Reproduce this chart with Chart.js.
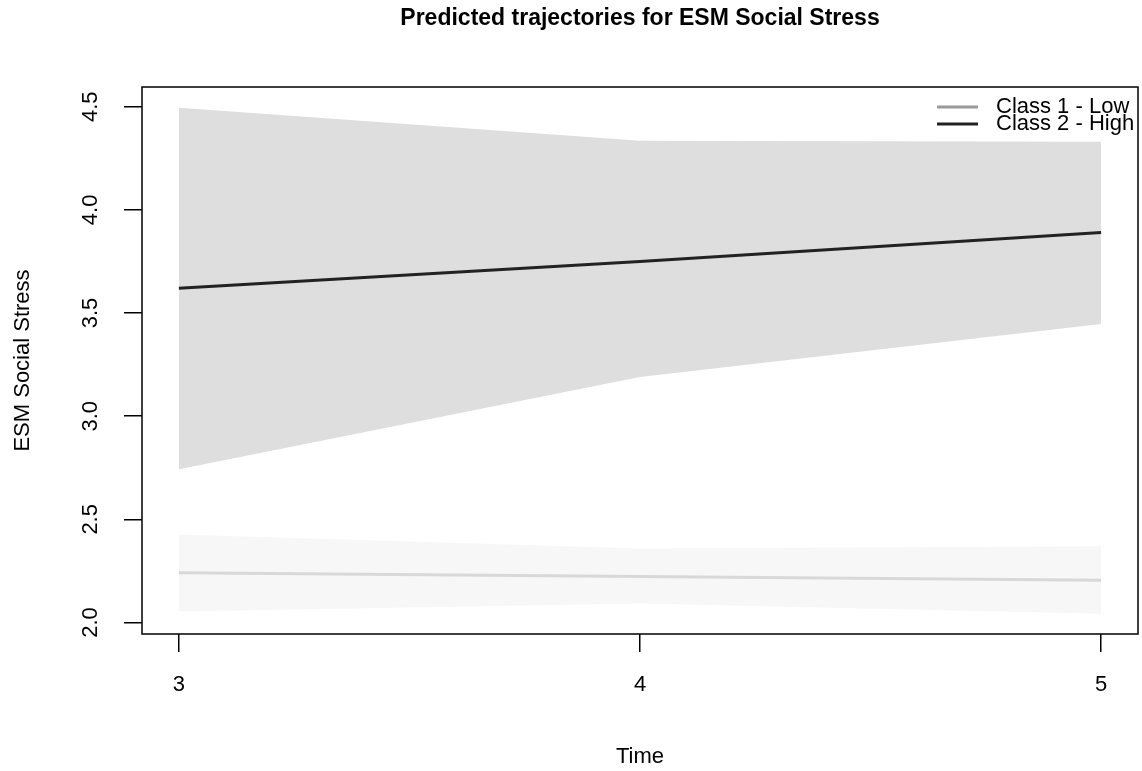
<!DOCTYPE html>
<html>
<head>
<meta charset="utf-8">
<script src="https://cdn.jsdelivr.net/npm/chart.js@4.4.1/dist/chart.umd.min.js"></script>
<style>
    html, body { margin: 0; padding: 0; background: #fff; }
    #wrap { width: 1142px; height: 771px; }
</style>
</head>
<body>
<div id="wrap"><canvas id="traj"></canvas></div>
<script>
const times = [3, 4, 5];
const highMean = [3.62, 3.75, 3.89];
const highUpper = [4.495, 4.335, 4.33];
const highLower = [2.743, 3.19, 3.447];
const lowMean = [2.241, 2.223, 2.204];
const lowUpper = [2.426, 2.359, 2.369];
const lowLower = [2.053, 2.092, 2.042];
const xTicks = [3, 4, 5];
const yTicks = [2.0, 2.5, 3.0, 3.5, 4.0, 4.5];
const legendLabels = ["Class 1 - Low", "Class 2 - High"];

const FONT = "'Liberation Sans', Arial, sans-serif";

function pts(ys) {
    return times.map((t, i) => ({ x: t, y: ys[i] }));
}

function band(ys, fill, color) {
    return {
        data: pts(ys),
        fill: fill,
        backgroundColor: color,
        borderWidth: 0,
        pointRadius: 0,
        tension: 0
    };
}

const rPlot = {
    id: "rPlot",
    afterDraw(chart) {
        const ctx = chart.ctx;
        const a = chart.chartArea;
        const xs = chart.scales.x;
        const ys = chart.scales.y;
        ctx.save();
        // box
        ctx.strokeStyle = "#000";
        ctx.lineWidth = 1.5;
        ctx.strokeRect(a.left, a.top, a.right - a.left, a.bottom - a.top);

        ctx.fillStyle = "#000";
        ctx.textAlign = "center";
        ctx.textBaseline = "middle";
        ctx.font = "22px " + FONT;
        xs.ticks.forEach(t => {
            ctx.fillText(String(t.value), xs.getPixelForValue(t.value), 685);
        });
        ys.ticks.forEach(t => {
            ctx.save();
            ctx.translate(91, ys.getPixelForValue(t.value));
            ctx.rotate(-Math.PI / 2);
            ctx.fillText(t.value.toFixed(1), 0, 0);
            ctx.restore();
        });

        // axis titles
        ctx.fillText("Time", (a.left + a.right) / 2, 757);
        ctx.save();
        ctx.translate(23, (a.top + a.bottom) / 2);
        ctx.rotate(-Math.PI / 2);
        ctx.fillText("ESM Social Stress", 0, 0);
        ctx.restore();

        // main title
        ctx.font = "bold 23px " + FONT;
        ctx.fillText("Predicted trajectories for ESM Social Stress", (a.left + a.right) / 2, 19);

        // legend
        const colors = ["#9a9a9a", "#222222"];
        const rows = [107, 124];
        ctx.font = "22px " + FONT;
        ctx.textAlign = "left";
        legendLabels.forEach((lab, i) => {
            ctx.strokeStyle = colors[i];
            ctx.lineWidth = 3;
            ctx.beginPath();
            ctx.moveTo(937, rows[i]);
            ctx.lineTo(978, rows[i]);
            ctx.stroke();
            ctx.fillStyle = "#000";
            ctx.fillText(lab, 996, rows[i]);
        });
        ctx.restore();
    }
};

new Chart(document.getElementById("traj"), {
    type: "line",
    data: {
        datasets: [
            {
                data: pts(highMean),
                borderColor: "#222222",
                borderWidth: 3,
                pointRadius: 0,
                fill: false
            },
            {
                data: pts(lowMean),
                borderColor: "#d8d8d8",
                borderWidth: 3,
                pointRadius: 0,
                fill: false
            },
            band(highUpper, "+1", "#dedede"),
            band(highLower, false, "#dedede"),
            band(lowUpper, "+1", "#f7f7f7"),
            band(lowLower, false, "#f7f7f7")
        ]
    },
    options: {
        responsive: true,
        maintainAspectRatio: false,
        animation: false,
        layout: { padding: { top: 87, right: 4, left: 0, bottom: 0 } },
        plugins: {
            legend: { display: false },
            tooltip: { enabled: false }
        },
        scales: {
            x: {
                type: "linear",
                min: 2.92,
                max: 5.08,
                afterBuildTicks: s => { s.ticks = xTicks.map(v => ({ value: v })); },
                afterFit: s => { s.height = 137; },
                ticks: { display: false },
                border: { display: false },
                grid: {
                    drawOnChartArea: false,
                    drawTicks: true,
                    tickLength: 18,
                    color: "#000",
                    lineWidth: 1.5
                }
            },
            y: {
                type: "linear",
                min: 1.944,
                max: 4.596,
                afterBuildTicks: s => { s.ticks = yTicks.map(v => ({ value: v })); },
                afterFit: s => { s.width = 142; },
                ticks: { display: false },
                border: { display: false },
                grid: {
                    drawOnChartArea: false,
                    drawTicks: true,
                    tickLength: 18,
                    color: "#000",
                    lineWidth: 1.5
                }
            }
        }
    },
    plugins: [rPlot]
});
</script>
</body>
</html>
